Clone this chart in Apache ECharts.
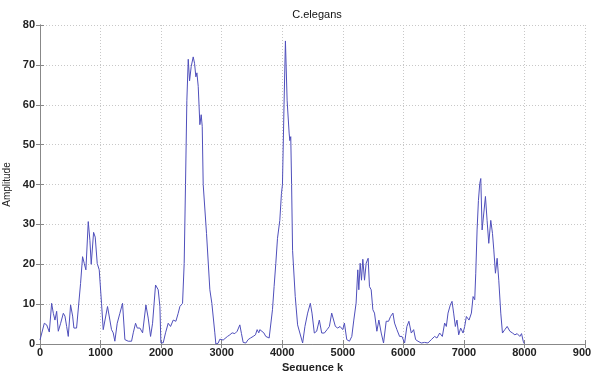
<!DOCTYPE html>
<html>
<head>
<meta charset="utf-8">
<script src="https://cdn.jsdelivr.net/npm/echarts@6/dist/echarts.min.js"></script>
<style>
  html, body { margin: 0; padding: 0; background: #fff; }
  #chart { width: 591px; height: 371px; }
</style>
</head>
<body>
<div id="chart"></div>
<script>
// sequence position k and amplitude
const seqK = [
  0, 25, 71, 110, 154, 192, 220, 247, 275, 302, 341, 385, 412, 440, 467, 505, 539, 560, 604, 637,
  670, 703, 731, 758, 797, 824, 846, 885, 912, 945, 978, 1016, 1044, 1071, 1115, 1154, 1181, 1209, 1236, 1275,
  1319, 1363, 1402, 1457, 1512, 1540, 1578, 1606, 1650, 1694, 1749, 1787, 1826, 1859, 1908, 1952, 1980, 1996, 2035, 2073,
  2117, 2156, 2200, 2244, 2282, 2310, 2337, 2354, 2381, 2403, 2425, 2448, 2470, 2497, 2530, 2552, 2574, 2591, 2613, 2640,
  2662, 2679, 2695, 2750, 2805, 2838, 2887, 2904, 2942, 2970, 3025, 3052, 3096, 3135, 3173, 3217, 3256, 3300, 3327, 3355,
  3399, 3437, 3476, 3520, 3558, 3586, 3613, 3630, 3663, 3696, 3729, 3784, 3806, 3839, 3866, 3894, 3922, 3938, 3960, 3987,
  4004, 4030, 4053, 4081, 4114, 4125, 4141, 4155, 4171, 4215, 4254, 4282, 4337, 4375, 4420, 4464, 4492, 4530, 4569, 4613,
  4652, 4696, 4740, 4779, 4817, 4845, 4878, 4917, 4955, 5000, 5027, 5066, 5110, 5149, 5182, 5220, 5248, 5265, 5287, 5309,
  5331, 5359, 5386, 5419, 5441, 5469, 5497, 5524, 5563, 5596, 5635, 5673, 5717, 5756, 5789, 5828, 5855, 5894, 5938, 5977,
  6021, 6059, 6092, 6131, 6170, 6203, 6241, 6296, 6351, 6406, 6462, 6517, 6555, 6600, 6644, 6682, 6710, 6738, 6776, 6804,
  6831, 6859, 6886, 6914, 6947, 6986, 7013, 7041, 7085, 7124, 7152, 7179, 7196, 7218, 7240, 7262, 7279, 7301, 7328, 7356,
  7383, 7411, 7444, 7472, 7494, 7521, 7549, 7576, 7609, 7637, 7676, 7715, 7759, 7803, 7842, 7880, 7924, 7952, 7980, 7996
]
const amplitude = [
  1, 1, 5.2, 4.8, 3, 10.2, 7.7, 6, 8.2, 3.2, 5.2, 7.7, 7, 4.4, 1.9, 9.8, 7, 4, 4, 4.4,
  15.2, 21.9, 20.2, 18.6, 30.7, 26, 20, 28, 26.8, 20.2, 18.6, 10.2, 3.6, 3.2, 9.4, 6, 3.6, 2.8, 0.7, 5.2,
  7.7, 10.2, 1.1, 0.7, 0.7, 2.8, 5.2, 4, 4, 2.8, 9.8, 6.5, 1.9, 5.2, 14.8, 13.6, 9.4, 0.3, 0.3, 2.8,
  5.2, 4.4, 6, 5.7, 7.7, 9.4, 8.9, 10.2, 20.2, 40, 61, 71.4, 66, 69.6, 72, 70.4, 67, 68, 64.6, 55,
  57.5, 54.6, 40, 27.7, 13.6, 10.2, 2.8, 0, 0.2, 1.2, 1, 0.7, 1.9, 2.3, 2.8, 2.6, 3.2, 4.8, 2.6, 0.4,
  0.25, 1.1, 1.5, 1.9, 2.3, 3.6, 2.8, 3.6, 3.2, 2.8, 1.9, 1.5, 1.9, 8.6, 14.4, 20.2, 26.5, 27, 31, 37.7,
  40, 60, 76, 61, 52.9, 51, 52, 40, 23.5, 11.9, 4.8, 4.4, 0.25, 4.4, 7.75, 10.2, 7.75, 2.75, 3.2, 6,
  2.75, 2.75, 3.6, 4.4, 7.75, 7.9, 4.4, 4, 4.4, 3.6, 5.25, 1.1, 0.7, 1.9, 6, 10.25, 18.6, 13.6, 20.25, 16,
  21.25, 16, 20.25, 21.5, 14.4, 13.6, 8.6, 7.75, 3.2, 6, 2.75, 0.25, 5.7, 5.7, 6.9, 7.75, 5.25, 3.6, 1.9, 1.9,
  0.25, 4.4, 5.7, 2.75, 3.6, 1.1, 0.7, 0.25, 0.4, 0.25, 1.1, 1.9, 1.5, 2.75, 1.9, 5.25, 4.4, 7.75, 9.8, 10.7,
  7.75, 4.4, 6, 2.3, 4, 2.75, 4.4, 6.9, 6, 7.75, 11.9, 11.1, 17.75, 28.6, 36, 40.25, 41.5, 28.6, 28.2, 37,
  31, 25.25, 31, 27.75, 23.6, 17.75, 21.5, 16, 7.75, 2.75, 3.6, 4.4, 3.2, 2.75, 2.3, 2.6, 1.9, 2.6, 0.7, 0.1
]

const titleText = 'C.elegans'
const xName = 'Sequence k'
const yName = 'Amplitude'

const points = seqK.map((k, i) => [k, amplitude[i]])

const labelStyle = {
  color: '#222',
  fontFamily: 'Liberation Sans, Arial, sans-serif',
  fontSize: 11,
  fontWeight: 'bold'
}
const gridLine = { show: true, lineStyle: { color: '#c8c8c8', type: [1, 2], width: 1 } }
const frameLine = { show: true, lineStyle: { color: '#888', width: 1 } }
const tick = { show: true, inside: true, length: 4, lineStyle: { color: '#888' } }

const chart = echarts.init(document.getElementById('chart'), null, { renderer: 'canvas' })

chart.setOption({
  animation: false,
  backgroundColor: '#fff',
  title: {
    text: titleText,
    left: 312,
    top: 4,
    textAlign: 'center',
    textStyle: { fontFamily: 'Liberation Sans, Arial, sans-serif', fontSize: 11, fontWeight: 'normal', color: '#111' }
  },
  grid: { left: 40, right: 6, top: 25, bottom: 27, containLabel: false, outerBoundsMode: 'none' },
  xAxis: [
    {
      type: 'value',
      min: 0,
      max: 9000,
      interval: 1000,
      name: xName,
      nameLocation: 'middle',
      nameGap: 12,
      nameTextStyle: labelStyle,
      axisLine: frameLine,
      axisTick: tick,
      axisLabel: Object.assign({ margin: 3, formatter: v => String(v) }, labelStyle),
      splitLine: gridLine
    },
    {
      type: 'value',
      position: 'top',
      min: 0,
      max: 9000,
      interval: 1000,
      axisLine: frameLine,
      axisTick: tick,
      axisLabel: { show: false },
      splitLine: { show: false }
    }
  ],
  yAxis: [
    {
      type: 'value',
      min: 0,
      max: 80,
      interval: 10,
      name: yName,
      nameLocation: 'middle',
      nameGap: 22,
      nameRotate: 90,
      nameTextStyle: Object.assign({}, labelStyle, { fontWeight: 'normal', fontSize: 10 }),
      axisLine: frameLine,
      axisTick: tick,
      axisLabel: Object.assign({ margin: 5 }, labelStyle),
      splitLine: gridLine
    },
    {
      type: 'value',
      position: 'right',
      min: 0,
      max: 80,
      interval: 10,
      axisLine: frameLine,
      axisTick: tick,
      axisLabel: { show: false },
      splitLine: { show: false }
    }
  ],
  series: [
    {
      type: 'line',
      data: points,
      showSymbol: false,
      symbol: 'none',
      lineStyle: { color: '#4f4fbb', width: 1 },
      xAxisIndex: 0,
      yAxisIndex: 0
    }
  ]
})
</script>
</body>
</html>
